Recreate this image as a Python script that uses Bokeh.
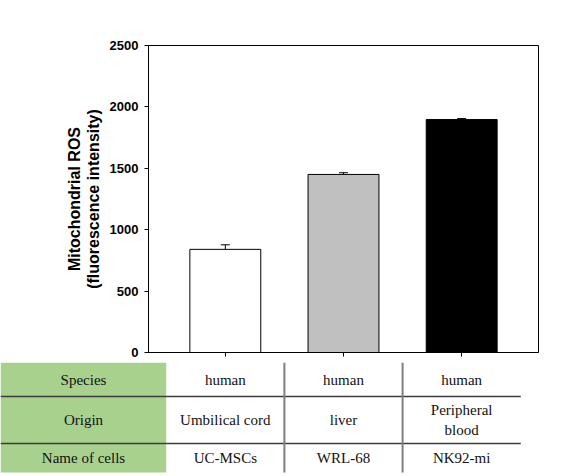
from bokeh.plotting import figure
from bokeh.models import Range1d, FixedTicker, Whisker, TeeHead, ColumnDataSource
from bokeh.layouts import column
from bokeh.core.properties import value
from bokeh.embed import file_html
from bokeh.resources import INLINE

# ---- data ----
cells = ["UC-MSCs", "WRL-68", "NK92-mi"]
positions = [1, 2, 3]
ros_mean = [840, 1450, 1897]
ros_err = [37, 14, 8]
bar_colors = ["#ffffff", "#c0c0c0", "#000000"]
y_ticks = [0, 500, 1000, 1500, 2000, 2500]

row_labels = ["Species", "Origin", "Name of cells"]
species = ["human", "human", "human"]
origin = ["Umbilical cord", "liver", "Peripheral\nblood"]
names = cells

# ---- layout constants ----
W = 572
H1 = 362
H2 = 112
FL, FR, FT, FB = 148, 34, 45, 10
x0, x1 = 0.35, 3.65
ppu = (W - FL - FR) / (x1 - x0)

p1 = figure(width=W, height=H1, output_backend="svg", toolbar_location=None,
            x_range=Range1d(x0, x1), y_range=Range1d(0, 2500),
            min_border_left=FL, min_border_right=FR, min_border_top=FT,
            min_border_bottom=FB)
p1.grid.visible = False
p1.outline_line_color = "black"
p1.outline_line_width = 1
p1.background_fill_color = "white"
p1.border_fill_color = "white"

src = ColumnDataSource(dict(x=positions, top=ros_mean,
                            err_top=[m + e for m, e in zip(ros_mean, ros_err)],
                            color=bar_colors))
p1.vbar(x="x", top="top", bottom=0, width=0.6, fill_color="color", line_color="black",
        line_width=1, source=src)
wh = Whisker(source=src, base="x", lower="top", upper="err_top", line_color="black",
             line_width=1, lower_head=None,
             upper_head=TeeHead(size=9, line_color="black", line_width=1))
p1.add_layout(wh)

ya = p1.yaxis[0]
ya.ticker = FixedTicker(ticks=y_ticks)
ya.minor_tick_line_color = None
ya.major_tick_out = 4
ya.major_tick_in = 0
ya.major_tick_line_color = "black"
ya.axis_line_color = "black"
ya.major_label_text_font = "Liberation Sans"
ya.major_label_text_font_style = "bold"
ya.major_label_text_font_size = "13px"
ya.major_label_text_color = "black"
ya.major_label_standoff = 6
ya.axis_label = "Mitochondrial ROS\n(fluorescence intensity)"
ya.axis_label_text_font = "Liberation Sans"
ya.axis_label_text_font_style = "bold"
ya.axis_label_text_font_size = "16px"
ya.axis_label_text_color = "black"
ya.axis_label_standoff = 5
ya.axis_label_text_line_height = 1.1

xa = p1.xaxis[0]
xa.ticker = FixedTicker(ticks=positions)
xa.minor_tick_line_color = None
xa.major_tick_out = 4
xa.major_tick_in = 0
xa.major_tick_line_color = "black"
xa.axis_line_color = "black"
xa.major_label_overrides = {1: "", 2: "", 3: ""}
xa.major_label_standoff = 0

# ---- table ----
t0 = x0 - FL / ppu
t1 = x0 + (W - FL) / ppu
p2 = figure(width=W, height=H2, output_backend="svg", toolbar_location=None,
            x_range=Range1d(t0, t1), y_range=Range1d(H2, 0),
            x_axis_location=None, y_axis_location=None,
            min_border=0, min_border_left=0, min_border_right=0,
            min_border_top=0, min_border_bottom=0)
p2.grid.visible = False
p2.outline_line_color = None
p2.background_fill_color = "white"
p2.border_fill_color = "white"

for p in (p1, p2):
    try:
        p.frame_align = False
    except Exception:
        pass

row_edges = [0, 34, 81, 110]
row_centers = [(row_edges[i] + row_edges[i + 1]) / 2 for i in range(3)]

p2.quad(left=[t0], right=[0.5], top=[row_edges[0]], bottom=[row_edges[3]],
        fill_color="#a9d18e", line_color=None)
p2.segment(x0=[t0, t0], x1=[3.5, 3.5], y0=row_edges[1:3], y1=row_edges[1:3],
           line_color="#3c3c3c", line_width=1.5)
p2.segment(x0=[1.5, 2.5], x1=[1.5, 2.5], y0=[row_edges[0]] * 2, y1=[row_edges[3]] * 2,
           line_color="#7f7f7f", line_width=2)

label_x = x0 + (83 - FL) / ppu
p2.text(x=[label_x] * 3, y=row_centers, text=row_labels, text_align="center",
        text_baseline="middle", text_font=value("Liberation Serif"), text_font_size="15px",
        text_color="#111111")
for row, vals in enumerate([species, origin, names]):
    p2.text(x=positions, y=[row_centers[row]] * 3, text=vals, text_align="center",
            text_baseline="middle", text_font=value("Liberation Serif"), text_font_size="15px",
            text_color="#111111", text_line_height=1.3)

layout = column(p1, p2, spacing=0)
open("out.html", "w").write(file_html(layout, INLINE))
